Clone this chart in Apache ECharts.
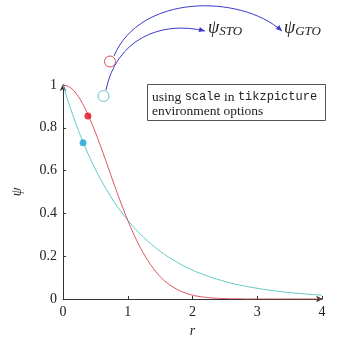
<!DOCTYPE html>
<html><head><meta charset="utf-8">
<script src="https://cdn.jsdelivr.net/npm/echarts@6/dist/echarts.min.js"></script>
<style>html,body{margin:0;padding:0;background:#fff}#c{width:338px;height:340px}</style>
</head><body><div id="c"></div>
<script>
const rValues = [0,0.1,0.2,0.3,0.4,0.5,0.6,0.7,0.8,0.9,1,1.1,1.2,1.3,1.4,1.5,1.6,1.7,1.8,1.9,2,2.1,2.2,2.3,2.4,2.5,2.6,2.7,2.8,2.9,3,3.1,3.2,3.3,3.4,3.5,3.6,3.7,3.8,3.9,4];
const psiSTO = [1,0.905,0.819,0.741,0.670,0.607,0.549,0.497,0.449,0.407,0.368,0.333,0.301,0.273,0.247,0.223,0.202,0.183,0.165,0.150,0.135,0.122,0.111,0.100,0.091,0.082,0.074,0.067,0.061,0.055,0.050,0.045,0.041,0.037,0.033,0.030,0.027,0.025,0.022,0.020,0.018];
const psiGTO = [1,0.990,0.961,0.914,0.852,0.779,0.698,0.613,0.527,0.445,0.368,0.298,0.237,0.185,0.141,0.105,0.077,0.056,0.039,0.027,0.018,0.012,0.008,0.005,0.003,0.002,0.001,0.001,0,0,0,0,0,0,0,0,0,0,0,0,0];
const stoDot = [0.31, 0.73];
const gtoDot = [0.385, 0.855];
const xTicks = [0,1,2,3,4];
const yTicks = [0,0.2,0.4,0.6,0.8,1];

const SERIF = '"Liberation Serif", "DejaVu Serif", serif';
const MONO = '"Liberation Mono", "DejaVu Sans Mono", monospace';
const RED = '#d9505a', CYAN = '#5cc8c4', BLUE = '#3a3ac8';

const chart = echarts.init(document.getElementById('c'), null, {renderer:'canvas'});

function arrowHead(x1,y1,x2,y2,color){
  const a = Math.atan2(y2-y1,x2-x1), L=6, W=2.6;
  const bx = x2 - L*Math.cos(a), by = y2 - L*Math.sin(a);
  const nx = -Math.sin(a), ny = Math.cos(a);
  return {type:'polygon', shape:{points:[[x2,y2],[bx+nx*W,by+ny*W],[bx-nx*W,by-ny*W]]}, style:{fill:color}, z:10};
}
const outer = {x1:114,y1:56,cpx1:140,cpy1:-6,cpx2:240,cpy2:-6,x2:282,y2:31};
const inner = {x1:106,y1:90,cpx1:116,cpy1:40,cpx2:160,cpy2:20,x2:205,y2:31};
const subRich = ()=>({p:{fontFamily:SERIF,fontStyle:'italic',fontSize:18,fill:'#222'},s:{fontFamily:SERIF,fontStyle:'italic',fontSize:13,fill:'#222',padding:[8,0,0,0]}});

chart.setOption({
  animation:false,
  grid:{left:63,right:16,top:85,bottom:41,outerBoundsMode:'none',containLabel:false},
  xAxis:{type:'value',min:0,max:4,interval:1,
    name:'r',nameLocation:'middle',nameGap:21,
    nameTextStyle:{fontFamily:SERIF,fontStyle:'italic',fontSize:14,color:'#222'},
    axisLine:{show:true,onZero:false,symbol:['none','arrow'],symbolSize:[5,7],symbolOffset:[0,1],lineStyle:{color:'#333',width:1}},
    axisTick:{show:true,inside:true,length:3,lineStyle:{color:'#333'}},
    axisLabel:{fontFamily:SERIF,fontSize:14,color:'#222',margin:6,formatter:v=>xTicks.includes(v)?String(v):''},
    splitLine:{show:false}},
  yAxis:{type:'value',min:0,max:1,interval:0.2,
    name:'ψ',nameLocation:'middle',nameGap:39,nameRotate:90,
    nameTextStyle:{fontFamily:SERIF,fontStyle:'italic',fontSize:14,color:'#222'},
    axisLine:{show:true,onZero:false,symbol:['none','arrow'],symbolSize:[5,7],symbolOffset:[0,1],lineStyle:{color:'#333',width:1}},
    axisTick:{show:true,inside:true,length:3,lineStyle:{color:'#333'}},
    axisLabel:{fontFamily:SERIF,fontSize:14,color:'#222',margin:6,formatter:v=>{const t=yTicks.find(y=>Math.abs(y-v)<1e-9);return t===undefined?'':String(t);}},
    splitLine:{show:false}},
  series:[
    {type:'line',data:rValues.map((r,i)=>[r,psiSTO[i]]),smooth:true,showSymbol:false,lineStyle:{color:CYAN,width:1},z:2},
    {type:'line',data:rValues.map((r,i)=>[r,psiGTO[i]]),smooth:true,showSymbol:false,lineStyle:{color:RED,width:1},z:3},
    {type:'scatter',data:[stoDot],symbolSize:7,itemStyle:{color:'#1aa3d8'},z:5},
    {type:'scatter',data:[gtoDot],symbolSize:7,itemStyle:{color:'#e0101e'},z:5}
  ],
  graphic:[
    {type:'circle',shape:{cx:110,cy:61.5,r:5.5},style:{fill:'none',stroke:RED,lineWidth:1}},
    {type:'circle',shape:{cx:103.5,cy:96,r:5.5},style:{fill:'none',stroke:CYAN,lineWidth:1}},
    {type:'bezierCurve',shape:outer,style:{fill:'none',stroke:BLUE,lineWidth:1}},
    {type:'bezierCurve',shape:inner,style:{fill:'none',stroke:BLUE,lineWidth:1}},
    arrowHead(outer.cpx2,outer.cpy2,outer.x2,outer.y2,BLUE),
    arrowHead(inner.cpx2,inner.cpy2,inner.x2,inner.y2,BLUE),
    {type:'text',left:208,top:19,style:{text:'{p|ψ}{s|STO}',rich:subRich()}},
    {type:'text',left:284,top:19,style:{text:'{p|ψ}{s|GTO}',rich:subRich()}},
    {type:'rect',shape:{x:147.5,y:84.5,width:178,height:36},style:{fill:'#fff',stroke:'#555',lineWidth:1},z:20},
    {type:'text',left:152,top:90,z:21,style:{text:'{a|using }{m|scale}{a| in }{m|tikzpicture}\n{a|environment options}',
      rich:{a:{fontFamily:SERIF,fontSize:13.5,fill:'#222',lineHeight:14.5},m:{fontFamily:MONO,fontSize:12,fill:'#222',lineHeight:14.5}}}}
  ]
});
</script></body></html>
